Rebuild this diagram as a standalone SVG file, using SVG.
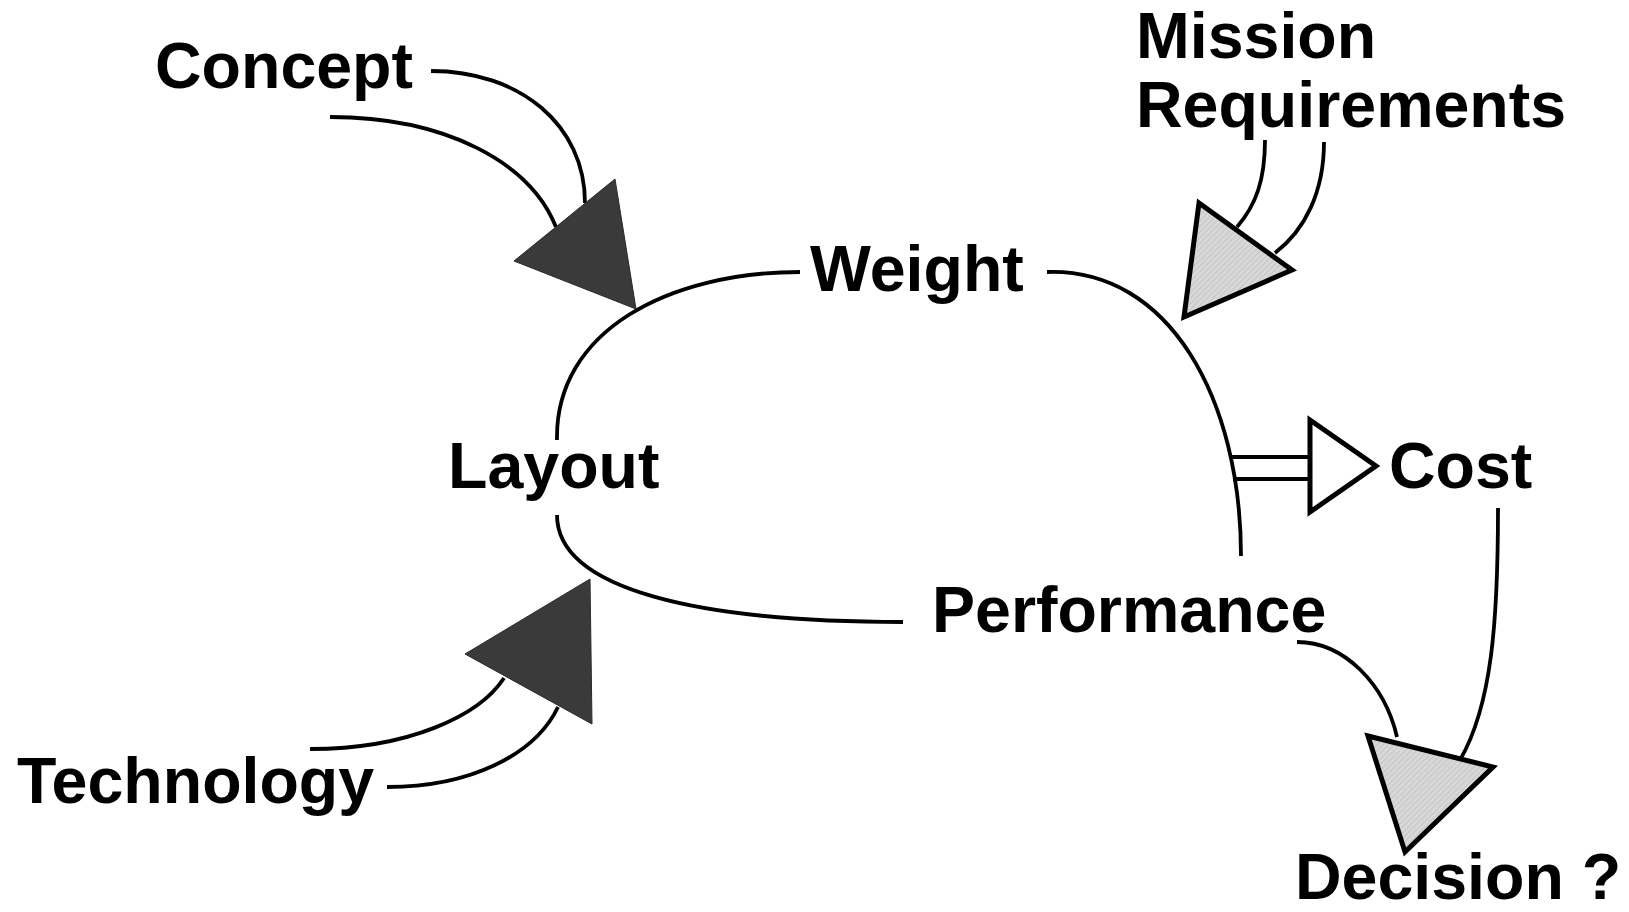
<svg xmlns="http://www.w3.org/2000/svg" width="1629" height="912" viewBox="0 0 1629 912">
  <style>
    .label { font-family: "Liberation Sans", Arial, sans-serif; font-weight: bold; font-size: 64.5px; fill: #000; }
    .wire { fill: none; stroke: #000; stroke-width: 3.8; stroke-linecap: butt; }
    .head-dark { fill: #3a3a3a; stroke: #2a2a2a; stroke-width: 1; }
    .head-light { fill: url(#hatch); stroke: #000; stroke-width: 5; stroke-linejoin: miter; }
    .head-open { fill: #fff; stroke: #000; stroke-width: 5; stroke-linejoin: miter; }
  </style>
  <defs>
    <pattern id="hatch" width="4" height="4" patternUnits="userSpaceOnUse" patternTransform="rotate(45)">
      <rect width="4" height="4" fill="#d8d8d8"/>
      <line x1="0" y1="0" x2="0" y2="4" stroke="#b8b8b8" stroke-width="1.2"/>
    </pattern>
  </defs>
  <rect width="1629" height="912" fill="#fff"/>

  <!-- connectors -->
  <g id="connectors">
    <!-- Concept into the loop -->
    <path class="wire" d="M431,71 C520,71 585,125 585,203"/>
    <path class="wire" d="M330,117 C445,117 530,162 556,227"/>
    <polygon class="head-dark" points="615,179 514,261 636,309"/>

    <!-- Technology into the loop -->
    <path class="wire" d="M310,749 C410,749 480,715 504,678"/>
    <path class="wire" d="M387,787 C470,787 535,755 558,707"/>
    <polygon class="head-dark" points="590,579 465,654 592,724"/>

    <!-- Layout / Weight / Performance loop -->
    <path class="wire" d="M557,440 C555,330 670,272 800,272"/>
    <path class="wire" d="M1047,272 C1170,268 1241,400 1241,556"/>
    <path class="wire" d="M557,515 C557,590 700,622 903,622"/>

    <!-- Mission Requirements into the loop -->
    <path class="wire" d="M1265,140 C1265,180 1256,205 1237,227"/>
    <path class="wire" d="M1324,142 C1324,192 1305,230 1275,253"/>
    <polygon class="head-light" points="1199,203 1292,270 1184,317"/>

    <!-- loop to Cost (double shaft) -->
    <line class="wire" x1="1231" y1="457" x2="1310" y2="457"/>
    <line class="wire" x1="1233" y1="479" x2="1310" y2="479"/>
    <polygon class="head-open" points="1310,420 1376,466 1310,512"/>

    <!-- Performance and Cost to Decision -->
    <path class="wire" d="M1297,642 C1345,642 1385,685 1397,737"/>
    <path class="wire" d="M1498,508 C1498,620 1492,705 1460,760"/>
    <polygon class="head-light" points="1368,736 1493,767 1405,852"/>
  </g>

  <g id="concept"><text class="label" x="155" y="88">Concept</text></g>
  <g id="mission-requirements">
    <text class="label" x="1136" y="58">Mission</text>
    <text class="label" x="1136" y="127">Requirements</text>
  </g>
  <g id="weight"><text class="label" x="810" y="291">Weight</text></g>
  <g id="layout"><text class="label" x="448" y="488">Layout</text></g>
  <g id="cost"><text class="label" x="1389" y="488">Cost</text></g>
  <g id="performance"><text class="label" x="932" y="632">Performance</text></g>
  <g id="technology"><text class="label" x="17" y="803">Technology</text></g>
  <g id="decision"><text class="label" x="1295" y="899">Decision ?</text></g>
</svg>
